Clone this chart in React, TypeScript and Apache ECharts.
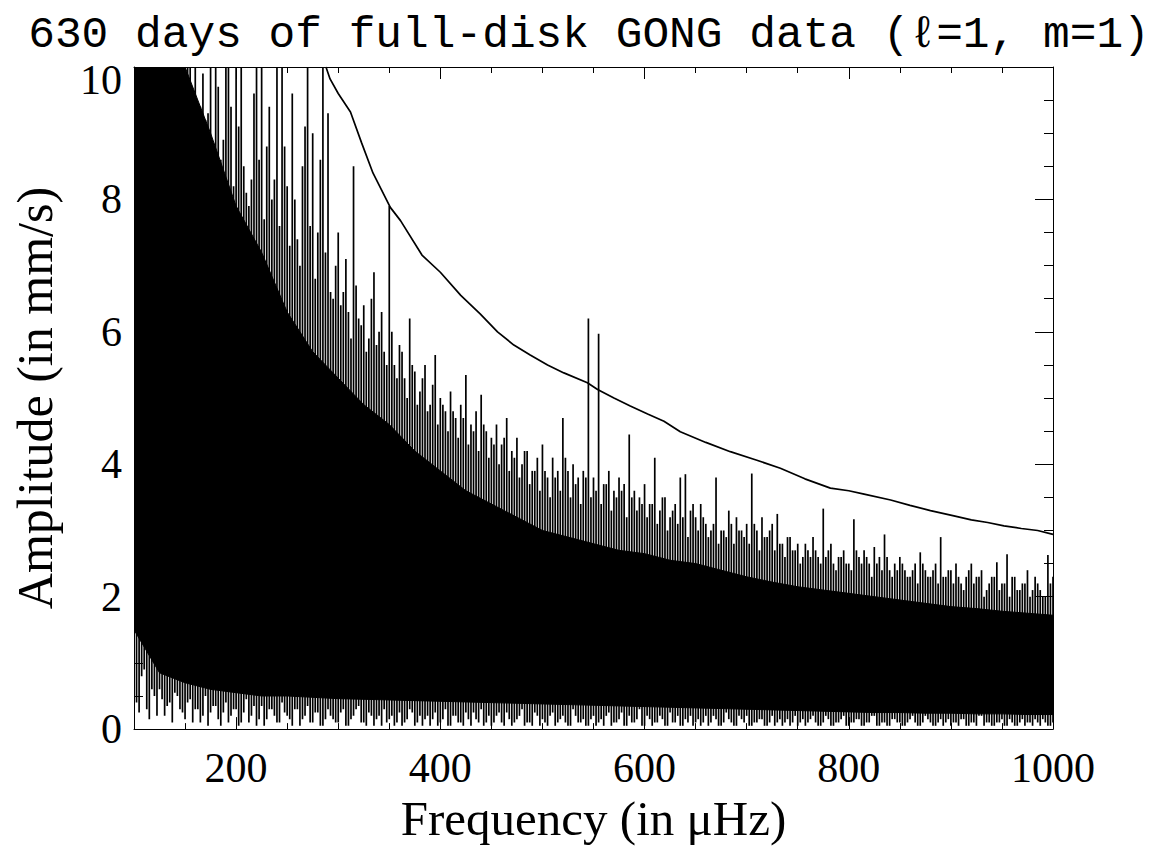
import React, { useEffect, useRef } from "react";
import * as echarts from "echarts";

// ---- axis ticks ----
const xMajorTicks = [200, 400, 600, 800, 1000];
const xMinorTicks = [100, 150, 250, 300, 350, 450, 500, 550, 650, 700, 750, 850, 900, 950];

// ---- dense core of the spectrum (solid black band), every 25 µHz ----
const coreFreq = [100, 125, 150, 175, 200, 225, 250, 275, 300, 325, 350, 375, 400, 425, 450, 475, 500, 525, 550, 575, 600, 625, 650, 675, 700, 725, 750, 775, 800, 825, 850, 875, 900, 925, 950, 975, 1000];
const coreTop = [10, 10, 10, 9.0, 7.9, 7.2, 6.3, 5.7, 5.3, 4.9, 4.6, 4.2, 3.9, 3.6, 3.4, 3.2, 3.0, 2.9, 2.8, 2.7, 2.65, 2.55, 2.5, 2.4, 2.3, 2.22, 2.15, 2.1, 2.05, 2.0, 1.95, 1.9, 1.85, 1.82, 1.78, 1.75, 1.72];
const coreLow = [1.5, 0.85, 0.7, 0.6, 0.55, 0.5, 0.5, 0.48, 0.46, 0.45, 0.44, 0.43, 0.42, 0.41, 0.4, 0.39, 0.38, 0.37, 0.36, 0.35, 0.34, 0.33, 0.32, 0.31, 0.3, 0.29, 0.28, 0.27, 0.26, 0.25, 0.25, 0.24, 0.24, 0.23, 0.23, 0.22, 0.22];

// ---- individual spikes (peak and trough), every 5 µHz from 100 to 1000 ----
const spikeStart = 100;
const spikeStep = 5;
const spikeHigh = [
  10, 10, 10, 10, 10, 10, 10, 10, 10, 10,
  10, 10, 10, 9.4, 9.2, 10, 10, 8.6, 10, 9.4,
  10, 10, 8.1, 8.3, 10, 10, 8.8, 8.0, 10, 10,
  8.2, 9.6, 7.4, 8.5, 10, 9.0, 7.5, 10, 9.3, 6.5,
  7.5, 6.6, 6.3, 8.5, 6.2, 6.4, 5.9, 6.9, 6.0, 5.7,
  7.9, 5.5, 5.8, 5.3, 6.2, 5.4, 5.1, 5.5, 4.9, 5.65,
  5.0, 4.8, 5.1, 4.7, 4.9, 5.35, 4.6, 4.8, 5.05, 4.5,
  4.4, 4.6, 4.3, 4.7, 4.2, 4.4, 4.0, 4.2, 3.9, 4.1,
  4.3, 3.8, 4.1, 3.9, 4.7, 3.9, 4.0, 3.8, 3.9, 6.2,
  3.8, 5.97, 3.7, 3.9, 3.6, 3.8, 3.7, 4.45, 3.6, 3.5,
  3.7, 3.4, 4.1, 3.3, 3.5, 3.2, 3.4, 3.8, 3.85, 3.3,
  3.2, 3.4, 3.1, 3.0, 3.8, 3.0, 2.9, 3.1, 3.2, 3.0,
  3.1, 3.86, 3.0, 3.2, 2.9, 3.1, 3.25, 2.8, 2.9, 2.7,
  2.8, 2.6, 2.7, 2.9, 2.6, 3.33, 2.7, 2.5, 2.6, 2.7,
  2.5, 3.17, 2.6, 2.7, 2.5, 2.75, 2.6, 2.94, 2.4, 2.5,
  2.6, 2.4, 2.3, 2.5, 2.67, 2.4, 2.3, 2.5, 2.9, 2.3,
  2.4, 2.5, 2.2, 2.3, 2.5, 2.3, 2.4, 2.1, 2.3, 2.52,
  2.2, 2.64, 2.3, 2.1, 2.2, 2.4, 2.1, 2.2, 2.0, 2.63,
  2.3,
];
const spikeLow = [
  0.7, 0.25, 0.9, 0.15, 0.5, 0.6, 0.2, 0.4, 0.55, 0.3,
  0.15, 0.45, 0.3, 0.1, 0.5, 0.25, 0.35, 0.05, 0.4, 0.2,
  0.3, 0.1, 0.45, 0.2, 0.05, 0.35, 0.15, 0.3, 0.1, 0.4,
  0.2, 0.05, 0.3, 0.15, 0.35, 0.1, 0.25, 0.05, 0.3, 0.15,
  0.1, 0.3, 0.05, 0.2, 0.35, 0.1, 0.25, 0.05, 0.2, 0.3,
  0.15, 0.05, 0.25, 0.1, 0.3, 0.05, 0.2, 0.15, 0.05, 0.25,
  0.1, 0.3, 0.05, 0.2, 0.1, 0.25, 0.05, 0.15, 0.3, 0.1,
  0.05, 0.2, 0.1, 0.25, 0.05, 0.15, 0.3, 0.1, 0.05, 0.2,
  0.15, 0.05, 0.25, 0.1, 0.2, 0.05, 0.3, 0.1, 0.15, 0.05,
  0.2, 0.1, 0.05, 0.25, 0.1, 0.15, 0.05, 0.2, 0.1, 0.3,
  0.05, 0.15, 0.1, 0.2, 0.05, 0.25, 0.1, 0.05, 0.15, 0.2,
  0.1, 0.05, 0.2, 0.1, 0.15, 0.05, 0.25, 0.1, 0.05, 0.15,
  0.2, 0.05, 0.1, 0.15, 0.05, 0.2, 0.1, 0.05, 0.15, 0.1,
  0.05, 0.15, 0.1, 0.2, 0.05, 0.1, 0.15, 0.05, 0.1, 0.2,
  0.05, 0.1, 0.15, 0.05, 0.1, 0.2, 0.05, 0.1, 0.05, 0.15,
  0.1, 0.05, 0.15, 0.1, 0.05, 0.2, 0.1, 0.05, 0.15, 0.1,
  0.05, 0.1, 0.15, 0.05, 0.1, 0.05, 0.2, 0.1, 0.05, 0.1,
  0.15, 0.05, 0.1, 0.05, 0.15, 0.1, 0.05, 0.1, 0.15, 0.05,
  0.1,
];

// ---- in-between spikes, every 5 µHz from 102.5 to 997.5 ----
const midStart = 102.5;
const midHigh = [
  10, 10, 10, 10, 10, 10, 10, 10, 10, 10,
  10, 9.6, 8.8, 9.9, 9.3, 8.4, 9.7, 8.9, 10, 8.2,
  9.1, 8.5, 7.9, 9.6, 8.6, 7.7, 9.4, 8.3, 7.6, 8.8,
  7.3, 8.0, 7.0, 9.1, 7.6, 6.8, 8.6, 7.2, 6.6, 7.0,
  6.4, 7.1, 5.9, 6.7, 6.1, 5.7, 6.5, 5.8, 6.3, 5.5,
  6.0, 5.3, 5.7, 5.0, 5.5, 4.9, 5.3, 4.8, 5.2, 4.6,
  4.9, 4.5, 4.8, 4.4, 4.7, 4.3, 4.5, 4.2, 4.6, 4.1,
  4.3, 4.0, 4.4, 3.9, 4.1, 3.8, 4.2, 3.7, 3.9, 3.6,
  3.9, 3.5, 3.8, 3.6, 4.1, 3.5, 3.7, 3.4, 3.8, 3.5,
  3.6, 3.4, 3.7, 3.3, 3.5, 3.6, 3.2, 3.5, 3.3, 3.4,
  3.2, 3.4, 3.1, 3.5, 3.0, 3.3, 3.1, 3.2, 2.9, 3.4,
  3.0, 3.2, 2.9, 3.1, 2.8, 3.0, 3.3, 2.8, 3.0, 2.9,
  2.8, 3.1, 2.7, 2.9, 3.0, 2.7, 2.8, 2.6, 2.9, 2.7,
  2.5, 2.8, 2.6, 2.7, 2.5, 2.6, 2.8, 2.4, 2.6, 2.5,
  2.4, 2.7, 2.5, 2.6, 2.3, 2.5, 2.4, 2.6, 2.3, 2.4,
  2.5, 2.3, 2.4, 2.2, 2.5, 2.3, 2.4, 2.2, 2.3, 2.4,
  2.2, 2.3, 2.1, 2.4, 2.2, 2.3, 2.0, 2.2, 2.3, 2.1,
  2.2, 2.0, 2.3, 2.1, 2.2, 2.0, 2.3, 2.1, 2.0, 2.2,
];
const midLow = [
  0.4, 0.8, 0.3, 0.6, 0.2, 0.45, 0.35, 0.1, 0.5, 0.25,
  0.4, 0.1, 0.3, 0.2, 0.05, 0.35, 0.15, 0.25, 0.1, 0.3,
  0.05, 0.25, 0.1, 0.35, 0.15, 0.05, 0.3, 0.2, 0.1, 0.25,
  0.15, 0.3, 0.05, 0.2, 0.1, 0.25, 0.05, 0.15, 0.2, 0.1,
  0.25, 0.05, 0.15, 0.3, 0.1, 0.05, 0.2, 0.15, 0.05, 0.1,
  0.2, 0.1, 0.05, 0.15, 0.25, 0.1, 0.05, 0.2, 0.15, 0.05,
  0.15, 0.05, 0.2, 0.1, 0.05, 0.15, 0.25, 0.1, 0.05, 0.2,
  0.1, 0.25, 0.05, 0.15, 0.1, 0.2, 0.05, 0.1, 0.25, 0.05,
  0.1, 0.2, 0.05, 0.15, 0.1, 0.05, 0.2, 0.1, 0.05, 0.15,
  0.05, 0.15, 0.2, 0.05, 0.1, 0.25, 0.05, 0.1, 0.15, 0.05,
  0.2, 0.05, 0.1, 0.15, 0.05, 0.1, 0.2, 0.05, 0.1, 0.05,
  0.15, 0.1, 0.05, 0.2, 0.05, 0.1, 0.15, 0.05, 0.2, 0.1,
  0.05, 0.1, 0.15, 0.05, 0.1, 0.05, 0.15, 0.1, 0.05, 0.2,
  0.1, 0.05, 0.15, 0.1, 0.05, 0.2, 0.05, 0.1, 0.15, 0.05,
  0.1, 0.15, 0.05, 0.1, 0.2, 0.05, 0.1, 0.05, 0.15, 0.1,
  0.05, 0.1, 0.2, 0.05, 0.1, 0.15, 0.05, 0.1, 0.05, 0.15,
  0.1, 0.05, 0.15, 0.05, 0.1, 0.2, 0.05, 0.1, 0.05, 0.1,
  0.05, 0.15, 0.05, 0.1, 0.05, 0.1, 0.15, 0.05, 0.1, 0.05,
];

// ---- detection threshold curve ----
const thresholdFreq = [288, 292, 300, 312, 323, 334, 351, 361, 382, 400, 420, 439, 456, 472, 488, 505, 521, 544, 554, 570, 586, 603, 619, 635, 660, 684, 710, 733, 757, 782, 800, 815, 841, 860, 880, 903, 920, 936, 952, 969, 985, 1000];
const thresholdAmp = [10, 9.82, 9.6, 9.32, 8.85, 8.4, 7.88, 7.68, 7.16, 6.9, 6.55, 6.27, 6.0, 5.8, 5.65, 5.5, 5.38, 5.23, 5.13, 5.0, 4.88, 4.76, 4.65, 4.49, 4.33, 4.19, 4.06, 3.94, 3.78, 3.64, 3.6, 3.55, 3.46, 3.38, 3.3, 3.22, 3.16, 3.12, 3.07, 3.03, 3.0, 2.94];

const SERIF = "'Liberation Serif', 'DejaVu Serif', serif";
const MONO = "'Liberation Mono', 'DejaVu Sans Mono', monospace";

function buildOption() {
  const spikeData = spikeHigh
    .map((h, i) => [spikeStart + i * spikeStep, spikeLow[i], h])
    .concat(midHigh.map((h, i) => [midStart + i * spikeStep, midLow[i], h]));
  const axisColor = "#000";
  const xBase = {
    type: "value",
    min: 100,
    max: 1000,
    splitLine: { show: false },
    gridIndex: 0,
  };
  const yBase = {
    type: "value",
    min: 0,
    max: 10,
    interval: 2,
    splitLine: { show: false },
    minorSplitLine: { show: false },
    gridIndex: 0,
  };
  return {
    animation: false,
    backgroundColor: "#fff",
    title: {
      text: "630 days of full-disk GONG data (ℓ=1, m=1)",
      left: 589,
      top: 12,
      padding: 0,
      textAlign: "center",
      textStyle: { fontFamily: MONO, fontSize: 44.5, fontWeight: "normal", color: "#000" },
    },
    grid: { left: 134, right: 101, top: 67, bottom: 108, containLabel: false },
    xAxis: [
      {
        ...xBase,
        position: "bottom",
        axisLine: { show: true, onZero: false, lineStyle: { color: axisColor, width: 1 } },
        axisTick: { show: true, inside: true, length: 12, customValues: xMajorTicks, lineStyle: { color: axisColor } },
        axisLabel: {
          show: true,
          customValues: xMajorTicks,
          margin: 18,
          fontFamily: SERIF,
          fontSize: 42,
          color: "#000",
          formatter: (v: number) => String(v),
        },
        name: "Frequency (in μHz)",
        nameLocation: "middle",
        nameGap: 83,
        nameTextStyle: { fontFamily: SERIF, fontSize: 49, color: "#000", verticalAlign: "middle" },
      },
      {
        ...xBase,
        position: "bottom",
        axisLine: { show: false, onZero: false },
        axisTick: { show: true, inside: true, length: 6, customValues: xMinorTicks, lineStyle: { color: axisColor } },
        axisLabel: { show: false },
      },
      {
        ...xBase,
        position: "top",
        axisLine: { show: true, onZero: false, lineStyle: { color: axisColor, width: 1 } },
        axisTick: { show: true, inside: true, length: 12, customValues: xMajorTicks, lineStyle: { color: axisColor } },
        axisLabel: { show: false },
      },
      {
        ...xBase,
        position: "top",
        axisLine: { show: false, onZero: false },
        axisTick: { show: true, inside: true, length: 6, customValues: xMinorTicks, lineStyle: { color: axisColor } },
        axisLabel: { show: false },
      },
    ],
    yAxis: [
      {
        ...yBase,
        position: "left",
        axisLine: { show: true, onZero: false, lineStyle: { color: axisColor, width: 1 } },
        axisTick: { show: true, inside: true, length: 18, lineStyle: { color: axisColor } },
        minorTick: { show: true, splitNumber: 4, length: 9, lineStyle: { color: axisColor } },
        axisLabel: {
          show: true,
          margin: 12,
          fontFamily: SERIF,
          fontSize: 42,
          color: "#000",
          formatter: (v: number) => (v === 10 ? "{t|10}" : String(v)),
          rich: { t: { fontFamily: SERIF, fontSize: 42, color: "#000", padding: [26, 0, 0, 0] } },
        },
        name: "Amplitude (in mm/s)",
        nameLocation: "middle",
        nameGap: 99,
        nameTextStyle: { fontFamily: SERIF, fontSize: 50, color: "#000", verticalAlign: "middle" },
      },
      {
        ...yBase,
        position: "right",
        axisLine: { show: true, onZero: false, lineStyle: { color: axisColor, width: 1 } },
        axisTick: { show: true, inside: true, length: 18, lineStyle: { color: axisColor } },
        minorTick: { show: true, splitNumber: 4, length: 9, lineStyle: { color: axisColor } },
        axisLabel: { show: false },
      },
    ],
    series: [
      {
        type: "custom",
        name: "core",
        xAxisIndex: 0,
        yAxisIndex: 0,
        silent: true,
        clip: true,
        encode: { x: 0, y: 1 },
        data: [[coreFreq[0], coreLow[0]]],
        renderItem: (params: any, api: any) => {
          const upper = coreFreq.map((f, i) => api.coord([f, coreTop[i]]));
          const lower = coreFreq.map((f, i) => api.coord([f, coreLow[i]])).reverse();
          return {
            type: "polygon",
            shape: { points: upper.concat(lower) },
            style: { fill: "#000", stroke: "#000", lineWidth: 1 },
          };
        },
      },
      {
        type: "custom",
        name: "spectrum",
        xAxisIndex: 0,
        yAxisIndex: 0,
        silent: true,
        clip: true,
        encode: { x: 0, y: [1, 2] },
        data: spikeData,
        renderItem: (params: any, api: any) => {
          const p1 = api.coord([api.value(0), api.value(1)]);
          const p2 = api.coord([api.value(0), api.value(2)]);
          return {
            type: "line",
            shape: { x1: p1[0], y1: p1[1], x2: p2[0], y2: p2[1] },
            style: { stroke: "#000", lineWidth: 1.7 },
          };
        },
      },
      {
        type: "line",
        name: "threshold",
        xAxisIndex: 0,
        yAxisIndex: 0,
        symbol: "none",
        silent: true,
        lineStyle: { color: "#000", width: 1.7 },
        data: thresholdFreq.map((f, i) => [f, thresholdAmp[i]]),
      },
    ],
  };
}

export default function App() {
  const ref = useRef<HTMLDivElement>(null);
  useEffect(() => {
    if (!ref.current) return;
    const chart = echarts.init(ref.current, null, { renderer: "svg" });
    chart.setOption(buildOption() as any);
    return () => chart.dispose();
  }, []);
  return (
    <div
      ref={ref}
      style={{ position: "fixed", left: 0, top: 0, width: 1154, height: 848, background: "#fff" }}
    />
  );
}
